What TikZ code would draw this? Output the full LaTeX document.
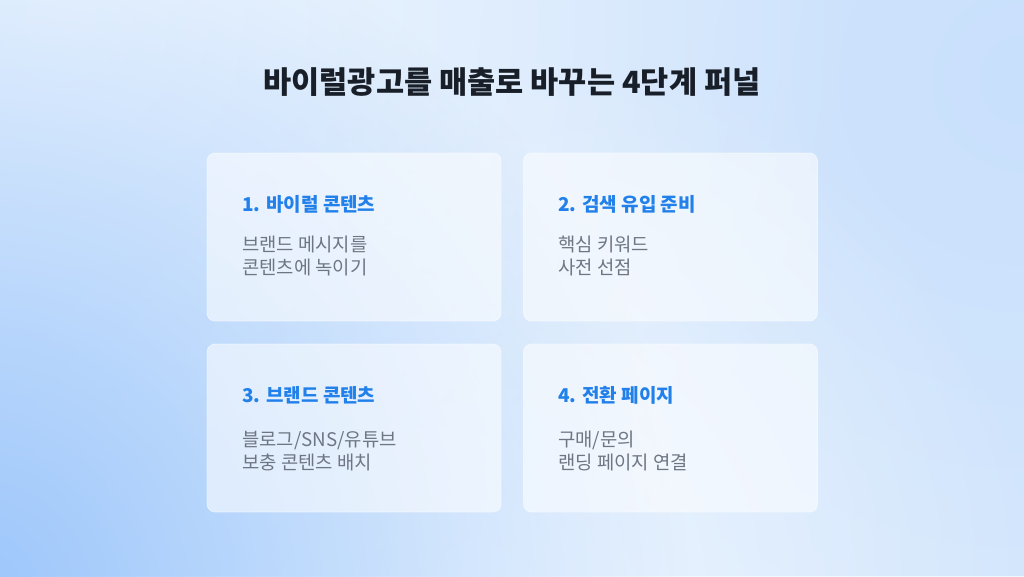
\documentclass[tikz,border=0pt]{standalone}
\usepackage{fontspec}
\setmainfont{Noto Sans CJK KR}
\usetikzlibrary{fadings}
\definecolor{bgbase}{HTML}{D8E9FD}
\definecolor{bgdark}{HTML}{9CC6FB}
\definecolor{bglight}{HTML}{EEF6FF}
\definecolor{bgright}{HTML}{C9E0FC}
\definecolor{titlecol}{HTML}{191F28}
\definecolor{headcol}{HTML}{2180EA}
\definecolor{bodycol}{HTML}{6E7684}
\tikzfading[name=softglow, inner color=transparent!0, outer color=transparent!100]
\tikzset{
  card/.style={rounded corners=8pt, fill=white, fill opacity=0.55, draw=white, draw opacity=0.5, line width=0.8pt, minimum width=294pt, minimum height=168pt, inner sep=0pt},
  titletext/.style={font=\fontsize{30.6}{36}\selectfont\bfseries, text=titlecol, inner sep=0pt},
  headtext/.style={font=\fontsize{19}{22}\selectfont\bfseries, text=headcol, inner sep=0pt, anchor=base west},
  bodytext/.style={font=\fontsize{18.8}{23}\selectfont, text=bodycol, inner sep=0pt, anchor=base west}
}
\begin{document}
\begin{tikzpicture}[x=1pt,y=-1pt]
\useasboundingbox (0,0) rectangle (1024,576);
% background
\fill[bgbase] (0,0) rectangle (1024,576);
\begin{scope}
\clip (0,0) rectangle (1024,576);
\fill[bgright, path fading=softglow] (1024,80) circle (700);
\fill[bglight, path fading=softglow] (60,20) circle (800);
\fill[bglight, path fading=softglow] (480,590) circle (560);
\fill[bgdark, path fading=softglow] (-30,600) circle (720);
\end{scope}
% title
\node[titletext] (title) at (512,82) {바이럴광고를 매출로 바꾸는 4단계 퍼널};
% cards
\node[card] (c1) at (354,237) {};
\node[card] (c2) at (670.5,237) {};
\node[card] (c3) at (354,428) {};
\node[card] (c4) at (670.5,428) {};
% texts
\node[headtext] (h1) at (242,211) {1. 바이럴 콘텐츠};
\node[bodytext] (b1a) at (242,251) {브랜드 메시지를};
\node[bodytext] (b1b) at (242,274) {콘텐츠에 녹이기};
\node[headtext] (h2) at (558,211) {2. 검색 유입 준비};
\node[bodytext] (b2a) at (558,251) {핵심 키워드};
\node[bodytext] (b2b) at (558,274) {사전 선점};
\node[headtext] (h3) at (242,402) {3. 브랜드 콘텐츠};
\node[bodytext] (b3a) at (242,446) {블로그/SNS/유튜브};
\node[bodytext] (b3b) at (242,469) {보충 콘텐츠 배치};
\node[headtext] (h4) at (558,402) {4. 전환 페이지};
\node[bodytext] (b4a) at (558,446) {구매/문의};
\node[bodytext] (b4b) at (558,469) {랜딩 페이지 연결};
\end{tikzpicture}
\end{document}
